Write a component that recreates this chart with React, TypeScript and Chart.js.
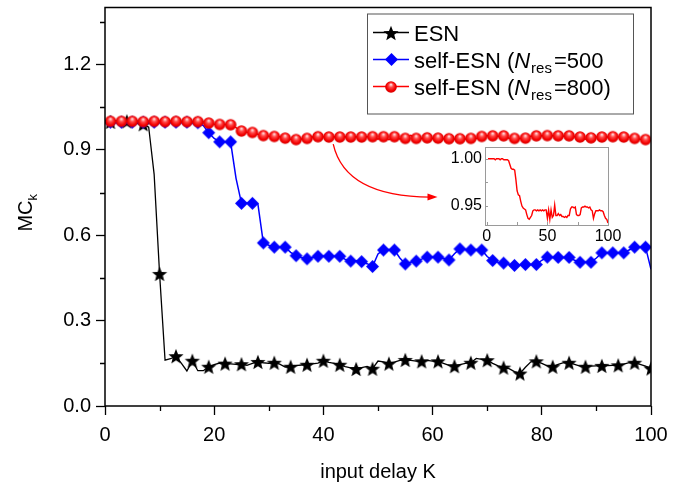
import React, { useEffect, useRef } from "react";
import { Chart, registerables } from "chart.js";

Chart.register(...registerables);

const FONT = "'Liberation Sans', Arial, sans-serif";

// input delay K
const delays: number[] = Array.from({ length: 100 }, (_, i) => i + 1);

const esnMC: number[] = [
  0.998, 0.996, 0.997, 1.0, 0.995, 0.993, 0.99, 0.98, 0.814, 0.464,
  0.161, 0.166, 0.175, 0.15, 0.123, 0.159, 0.124, 0.124, 0.138, 0.145,
  0.151, 0.149, 0.148, 0.146, 0.147, 0.143, 0.15, 0.155, 0.152, 0.15,
  0.152, 0.147, 0.137, 0.138, 0.142, 0.144, 0.145, 0.148, 0.151, 0.159,
  0.153, 0.15, 0.145, 0.138, 0.134, 0.13, 0.135, 0.139, 0.131, 0.158,
  0.155, 0.149, 0.154, 0.16, 0.162, 0.16, 0.158, 0.157, 0.16, 0.158,
  0.157, 0.15, 0.143, 0.14, 0.145, 0.15, 0.152, 0.167, 0.164, 0.161,
  0.15, 0.141, 0.135, 0.131, 0.121, 0.114, 0.136, 0.155, 0.157, 0.15,
  0.141, 0.138, 0.146, 0.152, 0.152, 0.146, 0.14, 0.138, 0.14, 0.141,
  0.141, 0.142, 0.143, 0.143, 0.147, 0.152, 0.152, 0.146, 0.14, 0.132,
];

const selfEsn500MC: number[] = [
  0.997, 0.997, 0.997, 0.997, 0.997, 0.997, 0.997, 0.997, 0.997, 0.997,
  0.997, 0.997, 0.997, 0.997, 0.997, 0.996, 0.995, 0.985, 0.96, 0.94,
  0.928, 0.928, 0.928, 0.8, 0.712, 0.713, 0.712, 0.71, 0.573, 0.565,
  0.558, 0.558, 0.558, 0.54, 0.528, 0.522, 0.517, 0.522, 0.526, 0.526,
  0.526, 0.526, 0.526, 0.515, 0.509, 0.51, 0.507, 0.5, 0.49, 0.534,
  0.548, 0.55, 0.548, 0.52, 0.499, 0.505, 0.509, 0.516, 0.523, 0.523,
  0.523, 0.518, 0.513, 0.535, 0.552, 0.55, 0.548, 0.55, 0.548, 0.525,
  0.511, 0.505, 0.502, 0.498, 0.494, 0.496, 0.497, 0.497, 0.497, 0.512,
  0.523, 0.522, 0.522, 0.522, 0.522, 0.512, 0.505, 0.505, 0.505, 0.52,
  0.538, 0.538, 0.538, 0.538, 0.538, 0.548, 0.558, 0.558, 0.558, 0.48,
];

const selfEsn800MC: number[] = [
  1.0, 1.0, 1.0, 1.0, 1.0, 1.0, 0.999, 1.0, 1.0, 1.0,
  0.999, 1.0, 1.0, 0.999, 0.999, 0.999, 0.999, 0.998, 0.994, 0.99,
  0.989, 0.989, 0.988, 0.978, 0.966, 0.962, 0.961, 0.955, 0.95, 0.948,
  0.947, 0.946, 0.941, 0.937, 0.936, 0.938, 0.94, 0.945, 0.946, 0.946,
  0.945, 0.946, 0.945, 0.946, 0.945, 0.946, 0.945, 0.946, 0.946, 0.937,
  0.946, 0.936, 0.946, 0.938, 0.94, 0.951, 0.94, 0.94, 0.942, 0.94,
  0.941, 0.939, 0.939, 0.938, 0.939, 0.938, 0.94, 0.94, 0.947, 0.949,
  0.949, 0.948, 0.949, 0.941, 0.94, 0.94, 0.941, 0.948, 0.949, 0.949,
  0.95, 0.949, 0.949, 0.948, 0.949, 0.946, 0.945, 0.937, 0.942, 0.945,
  0.945, 0.945, 0.946, 0.945, 0.945, 0.944, 0.94, 0.937, 0.936, 0.932,
];

const xTickValues: number[] = [0, 20, 40, 60, 80, 100];
const yTickValues: number[] = [0, 0.3, 0.6, 0.9, 1.2];
const xMinorTicks: number[] = [10, 30, 50, 70, 90];
const yMinorTicks: number[] = [0.15, 0.45, 0.75, 1.05, 1.35];
const insetXTickValues: number[] = [0, 50, 100];
const insetYTickValues: number[] = [0.95, 1.0];
const insetTicksY: number[] = [0.95, 0.975, 1.0];
const insetTicksX: number[] = [0, 25, 50, 75, 100];
// arrow from main curve to the inset (data space): start, control, tip
const arrowPoints: [number, number][] = [
  [41.8, 0.92],
  [44.0, 0.735],
  [60.9, 0.734],
];

function makeStar(r: number) {
  const c = document.createElement("canvas");
  const s = Math.ceil(r * 2 + 2);
  c.width = s;
  c.height = s;
  const g = c.getContext("2d")!;
  g.translate(s / 2, s / 2 + r * 0.1);
  g.beginPath();
  for (let i = 0; i < 10; i++) {
    const rad = i % 2 === 0 ? r : r * 0.43;
    const a = -Math.PI / 2 + (i * Math.PI) / 5;
    g.lineTo(rad * Math.cos(a), rad * Math.sin(a));
  }
  g.closePath();
  g.fillStyle = "#000";
  g.fill();
  return c;
}

function makeDiamond(r: number) {
  const c = document.createElement("canvas");
  const s = Math.ceil(r * 2 + 2);
  c.width = s;
  c.height = s;
  const g = c.getContext("2d")!;
  const m = s / 2;
  g.beginPath();
  g.moveTo(m, m - r);
  g.lineTo(m + r, m);
  g.lineTo(m, m + r);
  g.lineTo(m - r, m);
  g.closePath();
  g.fillStyle = "#0000ff";
  g.fill();
  return c;
}

function makeSphere(r: number) {
  const c = document.createElement("canvas");
  const s = Math.ceil(r * 2 + 2);
  c.width = s;
  c.height = s;
  const g = c.getContext("2d")!;
  const m = s / 2;
  const grad = g.createRadialGradient(m, m - r * 0.45, r * 0.05, m, m, r);
  grad.addColorStop(0, "#ffe6e6");
  grad.addColorStop(0.35, "#ff4a4a");
  grad.addColorStop(0.75, "#f40000");
  grad.addColorStop(1, "#d40000");
  g.beginPath();
  g.arc(m, m, r, 0, Math.PI * 2);
  g.fillStyle = grad;
  g.fill();
  return c;
}

type Part = { t: string; font: string; dy?: number; gap?: number };

function richWidth(ctx: CanvasRenderingContext2D, parts: Part[]) {
  let w = 0;
  for (const p of parts) {
    ctx.font = p.font;
    w += ctx.measureText(p.t).width + (p.gap || 0);
  }
  return w;
}

function drawRich(ctx: CanvasRenderingContext2D, x: number, y: number, parts: Part[]) {
  let cx = x;
  for (const p of parts) {
    ctx.font = p.font;
    ctx.fillText(p.t, cx, y + (p.dy || 0));
    cx += ctx.measureText(p.t).width + (p.gap || 0);
  }
}

const fixTicks = (vals: number[]) => (s: any) => {
  s.ticks = vals.map((v) => ({ value: v }));
};

export default function App() {
  const mainRef = useRef<HTMLCanvasElement>(null);
  const insetRef = useRef<HTMLCanvasElement>(null);

  useEffect(() => {
    const star = makeStar(8);
    const diamond = makeDiamond(6.5);
    const sphere = makeSphere(5.8);

    const F20 = `20px ${FONT}`;
    const F13 = `13px ${FONT}`;
    const L = `22px ${FONT}`;
    const Li = `italic 22px ${FONT}`;
    const Ls = `15px ${FONT}`;

    const legendRows = [
      { color: "#000", img: star, parts: [{ t: "ESN", font: L }] as Part[] },
      {
        color: "#0000ff",
        img: diamond,
        parts: [
          { t: "self-ESN (", font: L },
          { t: "N", font: Li, gap: 1 },
          { t: "res", font: Ls, dy: 5, gap: 2 },
          { t: "=500", font: L },
        ] as Part[],
      },
      {
        color: "#ff0000",
        img: sphere,
        parts: [
          { t: "self-ESN (", font: L },
          { t: "N", font: Li, gap: 1 },
          { t: "res", font: Ls, dy: 5, gap: 2 },
          { t: "=800)", font: L },
        ] as Part[],
      },
    ];

    const decor = {
      id: "decor",
      afterDraw(chart: any) {
        const { ctx, chartArea: a, scales } = chart;
        const xs = scales.x;
        const ys = scales.y;
        ctx.save();
        // frame
        ctx.strokeStyle = "#000";
        ctx.lineWidth = 1.5;
        ctx.strokeRect(a.left, a.top, a.right - a.left, a.bottom - a.top);
        // minor ticks
        ctx.lineWidth = 1.3;
        ctx.beginPath();
        for (const v of xMinorTicks) {
          const px = Math.round(xs.getPixelForValue(v)) + 0.5;
          ctx.moveTo(px, a.bottom);
          ctx.lineTo(px, a.bottom + 5);
        }
        for (const v of yMinorTicks) {
          const py = Math.round(ys.getPixelForValue(v)) + 0.5;
          ctx.moveTo(a.left - 5, py);
          ctx.lineTo(a.left, py);
        }
        ctx.stroke();

        ctx.fillStyle = "#000";
        ctx.textBaseline = "alphabetic";
        ctx.textAlign = "left";
        // x title
        const xt: Part[] = [{ t: "input delay K", font: F20 }];
        const xw = richWidth(ctx, xt);
        drawRich(ctx, (a.left + a.right) / 2 - xw / 2, 478, xt);
        // y title
        const yt: Part[] = [
          { t: "MC", font: F20 },
          { t: "k", font: F13, dy: 5 },
        ];
        const yw = richWidth(ctx, yt);
        ctx.save();
        ctx.translate(32, (a.top + a.bottom) / 2 + 6);
        ctx.rotate(-Math.PI / 2);
        drawRich(ctx, -yw / 2, 0, yt);
        ctx.restore();

        // arrow
        const p = arrowPoints.map(([kx, vy]) => [xs.getPixelForValue(kx), ys.getPixelForValue(vy)]);
        ctx.strokeStyle = "#ff0000";
        ctx.lineWidth = 1.3;
        ctx.beginPath();
        ctx.moveTo(p[0][0], p[0][1]);
        ctx.quadraticCurveTo(p[1][0], p[1][1], p[2][0] - 7, p[2][1]);
        ctx.stroke();
        ctx.fillStyle = "#ff0000";
        ctx.beginPath();
        ctx.moveTo(p[2][0], p[2][1]);
        ctx.lineTo(p[2][0] - 10, p[2][1] - 3.5);
        ctx.lineTo(p[2][0] - 10, p[2][1] + 3.5);
        ctx.closePath();
        ctx.fill();

        // legend
        const bx = 367;
        const by = a.top + 6;
        const bw = a.right - 18 - bx;
        const bh = 100;
        ctx.fillStyle = "#fff";
        ctx.fillRect(bx, by, bw, bh);
        ctx.strokeStyle = "#555";
        ctx.lineWidth = 1;
        ctx.strokeRect(bx + 0.5, by + 0.5, bw, bh);
        legendRows.forEach((row, i) => {
          const base = by + 27 + i * 27;
          const my = base - 8;
          ctx.strokeStyle = row.color;
          ctx.lineWidth = 1.5;
          ctx.beginPath();
          ctx.moveTo(bx + 6, my);
          ctx.lineTo(bx + 42, my);
          ctx.stroke();
          ctx.drawImage(row.img, Math.round(bx + 24 - row.img.width / 2), Math.round(my - row.img.height / 2));
          ctx.fillStyle = "#000";
          drawRich(ctx, bx + 47, base, row.parts);
        });
        ctx.restore();
      },
    };

    const mk = (arr: number[]) => delays.map((k, i) => ({ x: k, y: arr[i] }));

    const main = new Chart(mainRef.current!, {
      type: "line",
      data: {
        datasets: [
          {
            label: "ESN",
            data: mk(esnMC),
            borderColor: "#000",
            borderWidth: 1.3,
            pointStyle: star as any,
            pointRadius: (c: any) => (c.dataIndex % 3 === 0 ? 6 : 0),
            order: 2,
          },
          {
            label: "self-ESN (Nres=500",
            data: mk(selfEsn500MC),
            borderColor: "#0000ff",
            borderWidth: 1.5,
            pointStyle: diamond as any,
            pointRadius: (c: any) => (c.dataIndex % 2 === 0 ? 6 : 0),
            order: 1,
          },
          {
            label: "self-ESN (Nres=800)",
            data: mk(selfEsn800MC),
            borderColor: "#ff0000",
            borderWidth: 1.5,
            pointStyle: sphere as any,
            pointRadius: (c: any) => (c.dataIndex % 2 === 0 ? 6 : 0),
            order: 0,
          },
        ],
      },
      options: {
        animation: false,
        responsive: false,
        devicePixelRatio: 1,
        events: [],
        layout: { padding: { top: 7, right: 44, left: 0, bottom: 0 } },
        plugins: { legend: { display: false }, tooltip: { enabled: false } },
        scales: {
          x: {
            type: "linear",
            min: 0,
            max: 100,
            afterBuildTicks: fixTicks(xTickValues),
            afterFit: (s: any) => {
              s.height = 83;
              s.paddingLeft = 0;
              s.paddingRight = 0;
            },
            border: { display: false },
            grid: { drawOnChartArea: false, drawTicks: true, tickLength: 9, tickColor: "#000", tickWidth: 1.3 },
            ticks: {
              color: "#000",
              font: { family: FONT, size: 20 },
              padding: 8,
              maxRotation: 0,
              autoSkip: false,
            },
          },
          y: {
            type: "linear",
            min: 0,
            max: 1.4,
            afterBuildTicks: fixTicks(yTickValues),
            afterFit: (s: any) => {
              s.width = 105;
              s.paddingTop = 0;
              s.paddingBottom = 0;
            },
            border: { display: false },
            grid: { drawOnChartArea: false, drawTicks: true, tickLength: 9, tickColor: "#000", tickWidth: 1.3 },
            ticks: {
              color: "#000",
              font: { family: FONT, size: 20 },
              padding: 5,
              autoSkip: false,
              callback: (v: any) => Number(v).toFixed(1),
            },
          },
        },
      },
      plugins: [decor],
    } as any);

    const insetDecor = {
      id: "insetDecor",
      afterDraw(chart: any) {
        const { ctx, chartArea: a, scales } = chart;
        ctx.save();
        ctx.strokeStyle = "#9a9a9a";
        ctx.lineWidth = 1;
        ctx.strokeRect(Math.round(a.left) + 0.5, Math.round(a.top) + 0.5, Math.round(a.right - a.left), Math.round(a.bottom - a.top));
        ctx.beginPath();
        for (const v of insetTicksY) {
          const py = Math.round(scales.y.getPixelForValue(v)) + 0.5;
          ctx.moveTo(a.left, py);
          ctx.lineTo(a.left + 3, py);
        }
        for (const v of insetTicksX) {
          const px = Math.round(scales.x.getPixelForValue(v)) + 0.5;
          ctx.moveTo(px, a.bottom);
          ctx.lineTo(px, a.bottom - 3);
        }
        ctx.stroke();
        ctx.restore();
      },
    };

    const inset = new Chart(insetRef.current!, {
      type: "line",
      data: {
        datasets: [
          {
            data: mk(selfEsn800MC),
            borderColor: "#ff0000",
            borderWidth: 1.4,
            pointRadius: 0,
          },
        ],
      },
      options: {
        animation: false,
        responsive: false,
        devicePixelRatio: 1,
        events: [],
        layout: { padding: { top: 7, right: 27, left: 0, bottom: 0 } },
        plugins: { legend: { display: false }, tooltip: { enabled: false } },
        scales: {
          x: {
            type: "linear",
            min: -1.5,
            max: 100,
            afterBuildTicks: fixTicks(insetXTickValues),
            afterFit: (s: any) => {
              s.height = 25;
              s.paddingLeft = 0;
              s.paddingRight = 0;
            },
            border: { display: false },
            grid: { display: false, drawTicks: false },
            ticks: {
              color: "#000",
              font: { family: FONT, size: 16 },
              padding: 2,
              maxRotation: 0,
              autoSkip: false,
            },
          },
          y: {
            type: "linear",
            min: 0.93,
            max: 1.0125,
            afterBuildTicks: fixTicks(insetYTickValues),
            afterFit: (s: any) => {
              s.width = 45;
              s.paddingTop = 0;
              s.paddingBottom = 0;
            },
            border: { display: false },
            grid: { display: false, drawTicks: false },
            ticks: {
              color: "#000",
              font: { family: FONT, size: 16 },
              padding: 3,
              autoSkip: false,
              callback: (v: any) => Number(v).toFixed(2),
            },
          },
        },
      },
      plugins: [insetDecor],
    } as any);

    return () => {
      main.destroy();
      inset.destroy();
    };
  }, []);

  return (
    <div style={{ position: "fixed", left: 0, top: 0, width: 695, height: 489, background: "#fff" }}>
      <canvas ref={mainRef} width={695} height={489} style={{ position: "absolute", left: 0, top: 0 }} />
      <canvas ref={insetRef} width={195} height={110} style={{ position: "absolute", left: 440, top: 140 }} />
    </div>
  );
}
